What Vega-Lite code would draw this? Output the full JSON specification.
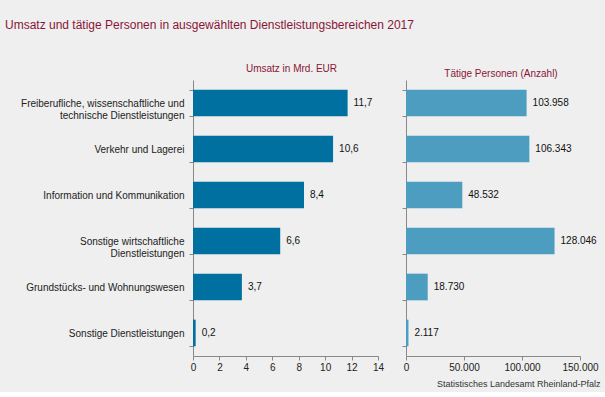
{
  "$schema": "https://vega.github.io/schema/vega-lite/v6.json",
  "background": "#eeefee",
  "padding": {"left": 5, "top": 19, "right": 5, "bottom": 4},
  "title": {
    "text": "Umsatz und tätige Personen in ausgewählten Dienstleistungsbereichen 2017",
    "anchor": "start",
    "frame": "group",
    "dx": -188,
    "fontSize": 12,
    "fontWeight": "normal",
    "color": "#8b1538",
    "offset": 32
  },
  "data": {
    "values": [
      {"bereich": "Freiberufliche, wissenschaftliche und|technische Dienstleistungen", "umsatz": 11.7, "personen": 103958},
      {"bereich": "Verkehr und Lagerei", "umsatz": 10.6, "personen": 106343},
      {"bereich": "Information und Kommunikation", "umsatz": 8.4, "personen": 48532},
      {"bereich": "Sonstige wirtschaftliche|Dienstleistungen", "umsatz": 6.6, "personen": 128046},
      {"bereich": "Grundstücks- und Wohnungswesen", "umsatz": 3.7, "personen": 18730},
      {"bereich": "Sonstige Dienstleistungen", "umsatz": 0.2, "personen": 2117}
    ]
  },
  "spacing": 28,
  "bounds": "flush",
  "hconcat": [
    {
      "width": 185,
      "height": 276,
      "title": {"text": "Umsatz  in Mrd. EUR", "fontSize": 10, "fontWeight": "normal", "color": "#8b1538", "anchor": "middle", "dx": 6, "offset": 1},
      "encoding": {
        "y": {
          "field": "bereich", "type": "nominal", "sort": null,
          "scale": {"paddingInner": 0.42, "paddingOuter": 0.21},
          "axis": {"title": null, "labelExpr": "datum.value ? split(datum.value, '|') : ''", "labelLineHeight": 12, "tickBand": "extent", "labelPadding": 5}
        },
        "x": {"field": "umsatz", "type": "quantitative", "scale": {"domain": [0, 14], "nice": false},
          "axis": {"title": null, "grid": false, "values": [0, 2, 4, 6, 8, 10, 12, 14], "format": "d", "labelFlush": false}}
      },
      "layer": [
        {"mark": {"type": "bar", "color": "#0070a0"}},
        {
          "mark": {"type": "text", "align": "left", "dx": 6, "fontSize": 10, "color": "#111"},
          "encoding": {"text": {"field": "umsatz", "type": "quantitative", "format": ".1f"}}
        }
      ]
    },
    {
      "width": 174,
      "height": 276,
      "title": {"text": "Tätige Personen (Anzahl)", "fontSize": 10, "fontWeight": "normal", "color": "#8b1538", "anchor": "middle", "dx": 8, "offset": 1},
      "encoding": {
        "y": {
          "field": "bereich", "type": "nominal", "sort": null,
          "scale": {"paddingInner": 0.42, "paddingOuter": 0.21},
          "axis": {"title": null, "labels": false, "tickBand": "extent"}
        },
        "x": {"field": "personen", "type": "quantitative", "scale": {"domain": [0, 150000], "nice": false},
          "axis": {"title": "Statistisches Landesamt Rheinland-Pfalz", "grid": false, "values": [0, 50000, 100000, 150000], "format": ",.0f", "labelFlush": false,
            "titleFontSize": 9, "titleFontWeight": "normal", "titleColor": "#333", "titleAlign": "right", "titleAnchor": "end", "titleX": 194, "titleY": 27, "titleBaseline": "middle"}}
      },
      "layer": [
        {"mark": {"type": "bar", "color": "#4d9dc0"}},
        {
          "mark": {"type": "text", "align": "left", "dx": 6, "fontSize": 10, "color": "#111"},
          "encoding": {"text": {"field": "personen", "type": "quantitative", "format": ","}}
        }
      ]
    }
  ],
  "config": {
    "font": "Liberation Sans",
    "locale": {"number": {"decimal": ",", "thousands": ".", "grouping": [3], "currency": ["", " €"]}},
    "view": {"stroke": null},
    "axis": {"domainColor": "#888", "tickColor": "#888", "labelColor": "#222", "labelFontSize": 10, "tickSize": 4, "labelPadding": 2, "domainWidth": 1}
  }
}
